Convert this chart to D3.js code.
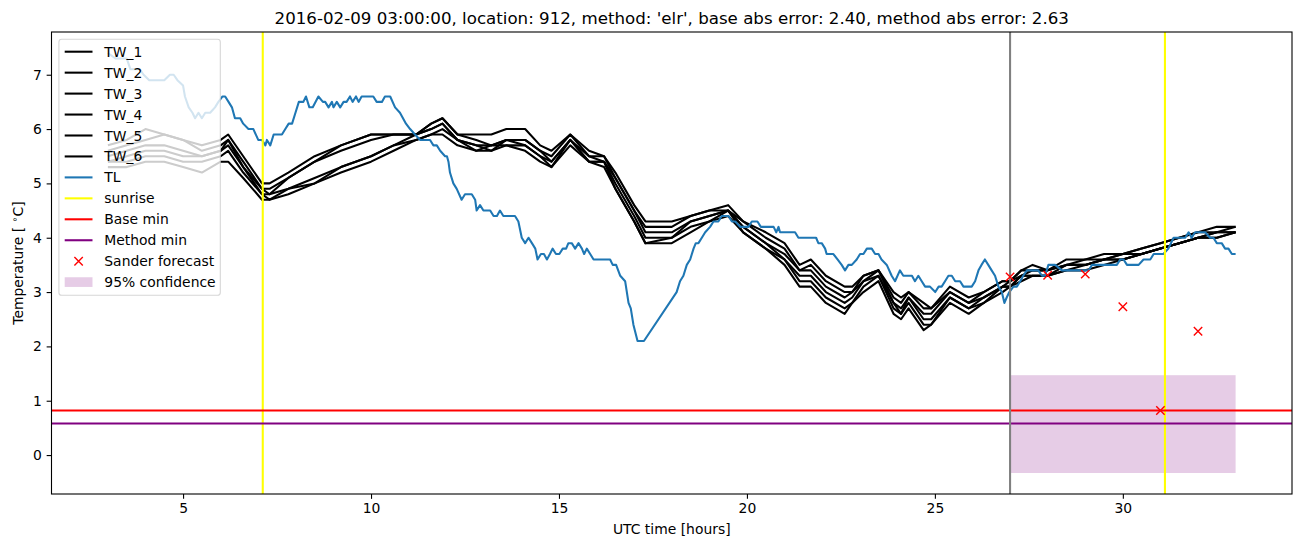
<!DOCTYPE html>
<html><head><meta charset="utf-8">
<script src="https://cdn.jsdelivr.net/npm/d3@7"></script>
<style>
body{margin:0;background:#fff}
svg{display:block}
text{font-family:"DejaVu Sans",sans-serif;fill:#000}
</style>
</head><body>
<svg id="chart" width="1302" height="547"></svg>
<script>
// ---------------- DATA ----------------
const titleText = "2016-02-09 03:00:00, location: 912, method: 'elr', base abs error: 2.40, method abs error: 2.63";
const twTimes = [3.0,3.5,4.0,4.5,5.0,5.5,6.0,6.2,6.6,7.1,7.3,7.8,8.5,9.2,10.0,10.6,11.2,11.6,11.9,12.3,12.8,13.2,13.6,14.1,14.5,14.8,15.3,15.8,16.2,16.5,17.0,17.3,18.0,18.5,19.0,19.5,19.9,20.5,21.0,21.4,21.7,22.1,22.6,22.8,23.1,23.5,23.9,24.1,24.3,24.7,24.9,25.4,25.9,26.3,26.8,27.0,27.3,27.6,28.0,28.5,29.0,29.5,30.0,30.5,31.0,31.5,32.0,32.5,33.0];
const TW_1 = [5.7,5.8,6.0,5.9,5.8,5.7,5.8,5.9,5.5,5.0,5.0,5.2,5.5,5.7,5.9,5.9,5.9,6.1,6.2,5.9,5.9,5.9,6.0,6.0,5.7,5.6,5.9,5.6,5.5,5.2,4.6,4.3,4.3,4.4,4.5,4.6,4.3,4.1,3.9,3.5,3.6,3.3,3.1,3.1,3.3,3.4,3.0,2.9,3.0,2.8,2.7,3.1,2.9,3.0,3.2,3.2,3.4,3.5,3.4,3.6,3.6,3.7,3.7,3.8,3.9,4.0,4.1,4.2,4.2];
const TW_2 = [5.6,5.7,5.8,5.9,5.8,5.6,5.7,5.8,5.4,4.9,4.9,5.1,5.4,5.7,5.9,5.9,5.9,6.1,6.2,5.9,5.8,5.7,5.8,5.8,5.6,5.5,5.9,5.5,5.5,5.1,4.5,4.2,4.2,4.4,4.5,4.5,4.3,4.0,3.8,3.4,3.5,3.2,3.0,3.0,3.3,3.4,2.9,2.8,3.0,2.7,2.7,3.0,2.8,3.0,3.2,3.2,3.4,3.4,3.4,3.5,3.6,3.6,3.7,3.8,3.9,4.0,4.1,4.1,4.2];
const TW_3 = [5.5,5.6,5.7,5.7,5.6,5.5,5.6,5.8,5.3,4.9,4.8,5.1,5.4,5.6,5.8,5.9,5.9,6.0,6.1,5.8,5.7,5.7,5.8,5.8,5.6,5.4,5.8,5.5,5.4,5.1,4.5,4.1,4.1,4.3,4.4,4.5,4.2,3.9,3.7,3.4,3.4,3.1,2.9,3.0,3.2,3.4,2.8,2.7,2.9,2.6,2.6,3.0,2.8,2.9,3.1,3.2,3.3,3.4,3.4,3.5,3.5,3.6,3.7,3.7,3.8,3.9,4.0,4.1,4.1];
const TW_4 = [5.4,5.5,5.6,5.6,5.5,5.5,5.6,5.7,5.3,4.8,4.8,4.9,5.1,5.3,5.5,5.7,5.9,6.0,6.1,5.8,5.7,5.6,5.8,5.7,5.5,5.4,5.8,5.4,5.4,5.0,4.4,4.0,4.0,4.3,4.4,4.5,4.2,3.9,3.6,3.3,3.3,3.0,2.8,2.9,3.2,3.3,2.8,2.6,2.9,2.5,2.5,2.9,2.7,2.9,3.1,3.1,3.3,3.3,3.3,3.5,3.5,3.6,3.6,3.7,3.8,3.9,4.0,4.1,4.1];
const TW_5 = [5.4,5.4,5.5,5.5,5.4,5.4,5.5,5.6,5.2,4.8,4.7,4.9,5.0,5.3,5.5,5.7,5.8,5.9,6.0,5.8,5.6,5.7,5.7,5.7,5.5,5.3,5.8,5.4,5.4,4.9,4.3,3.9,4.0,4.2,4.3,4.5,4.1,3.8,3.6,3.2,3.2,2.9,2.7,2.8,3.1,3.3,2.7,2.6,2.8,2.4,2.4,2.9,2.7,2.8,3.1,3.1,3.3,3.3,3.3,3.4,3.5,3.6,3.6,3.7,3.8,3.9,4.0,4.0,4.1];
const TW_6 = [5.3,5.3,5.4,5.4,5.3,5.2,5.4,5.4,5.1,4.7,4.7,4.8,5.0,5.2,5.4,5.6,5.8,5.9,5.9,5.7,5.6,5.6,5.7,5.6,5.4,5.3,5.7,5.4,5.3,4.9,4.3,3.9,3.9,4.1,4.3,4.4,4.1,3.8,3.5,3.1,3.1,2.8,2.6,2.8,3.0,3.2,2.6,2.5,2.7,2.3,2.4,2.8,2.6,2.8,3.0,3.1,3.2,3.3,3.3,3.4,3.4,3.5,3.6,3.7,3.8,3.9,4.0,4.0,4.1];
const twNames = ["TW_1","TW_2","TW_3","TW_4","TW_5","TW_6"];

const tlTimes = [3.0,3.2,3.5,3.6,3.85,3.95,4.1,4.5,4.65,4.75,4.85,5.0,5.05,5.15,5.25,5.32,5.41,5.5,5.59,5.72,5.85,5.94,6.05,6.12,6.21,6.3,6.38,6.52,6.6,6.74,6.87,7.0,7.1,7.19,7.23,7.32,7.41,7.63,7.72,7.81,7.9,7.99,8.08,8.2,8.27,8.36,8.45,8.6,8.72,8.78,8.87,8.96,9.0,9.09,9.18,9.27,9.35,9.44,9.51,9.6,9.67,9.75,9.98,10.06,10.15,10.29,10.37,10.51,10.64,10.77,10.93,11.04,11.17,11.31,11.57,11.66,11.75,11.84,11.97,12.02,12.06,12.1,12.19,12.28,12.41,12.5,12.68,12.77,12.81,12.9,12.99,13.17,13.26,13.35,13.43,13.52,13.83,13.92,14.01,14.1,14.19,14.28,14.37,14.43,14.52,14.6,14.68,14.76,14.83,14.92,15.01,15.1,15.19,15.25,15.34,15.43,15.52,15.61,15.67,15.74,15.83,15.92,16.36,16.43,16.52,16.63,16.76,16.85,16.91,16.98,17.09,17.26,18.13,18.22,18.31,18.4,18.49,18.58,18.64,18.71,18.8,18.89,19.02,19.11,19.24,19.33,19.51,19.6,19.69,19.82,20.04,20.13,20.28,20.37,20.71,20.78,20.84,20.88,21.28,21.37,21.84,21.9,21.99,22.08,22.12,22.3,22.41,22.52,22.61,22.7,22.79,22.92,23.01,23.1,23.19,23.32,23.41,23.5,23.58,23.72,23.85,23.94,24.07,24.16,24.39,24.47,24.56,24.65,24.74,24.87,25.01,25.1,25.18,25.27,25.36,25.45,25.54,25.67,25.76,25.98,26.07,26.16,26.24,26.33,26.42,26.51,26.6,26.69,26.78,26.85,26.91,26.98,27.09,27.18,27.27,27.35,27.45,27.75,27.85,27.93,28.02,28.2,28.38,29.09,29.18,29.84,29.93,30.02,30.11,30.42,30.55,30.73,30.82,31.08,31.21,31.35,31.66,31.75,31.83,31.92,32.19,32.32,32.41,32.5,32.63,32.72,32.81,32.9,33.0];
const tlValues = [7.4,7.3,7.3,7.1,7.1,7.0,6.9,6.9,7.0,7.0,6.9,6.8,6.6,6.4,6.3,6.2,6.3,6.2,6.3,6.3,6.4,6.5,6.6,6.6,6.5,6.4,6.2,6.2,6.1,6.0,6.0,5.8,5.8,5.7,5.8,5.7,5.9,5.9,6.0,6.1,6.1,6.3,6.5,6.5,6.6,6.4,6.4,6.6,6.5,6.5,6.4,6.5,6.4,6.5,6.4,6.5,6.5,6.6,6.5,6.6,6.5,6.6,6.6,6.6,6.5,6.5,6.6,6.6,6.4,6.3,6.1,6.0,5.9,5.8,5.8,5.7,5.7,5.6,5.5,5.5,5.4,5.2,5.0,4.9,4.7,4.8,4.8,4.7,4.5,4.6,4.5,4.5,4.4,4.4,4.5,4.4,4.4,4.3,4.0,3.9,4.0,3.9,3.8,3.6,3.7,3.7,3.6,3.7,3.8,3.7,3.7,3.8,3.8,3.9,3.9,3.8,3.9,3.8,3.7,3.8,3.7,3.6,3.6,3.5,3.5,3.3,3.2,2.8,2.7,2.4,2.1,2.1,3.0,3.2,3.3,3.5,3.6,3.8,3.9,3.9,4.0,4.1,4.2,4.3,4.3,4.4,4.4,4.3,4.3,4.2,4.2,4.3,4.3,4.2,4.2,4.1,4.2,4.1,4.1,4.0,4.0,3.9,3.9,3.8,3.7,3.7,3.6,3.5,3.4,3.5,3.5,3.6,3.7,3.7,3.8,3.8,3.7,3.7,3.6,3.5,3.3,3.2,3.4,3.3,3.3,3.2,3.3,3.2,3.1,3.1,3.0,3.1,3.1,3.2,3.3,3.3,3.2,3.2,3.1,3.1,3.2,3.4,3.5,3.6,3.5,3.4,3.3,3.1,3.0,2.8,2.9,3.0,3.1,3.1,3.2,3.3,3.4,3.4,3.3,3.3,3.5,3.5,3.4,3.4,3.5,3.5,3.6,3.6,3.5,3.5,3.6,3.6,3.7,3.7,3.8,4.0,4.0,4.1,4.0,4.1,4.1,4.0,4.0,3.9,3.9,3.8,3.8,3.7,3.7];

const sunriseTimes = [7.12, 31.12];
const baseMin = 0.82;
const methodMin = 0.58;
const forecastStart = 27.0;
const sanderTimes = [27, 28, 29, 30, 31, 32];
const sanderValues = [3.28, 3.31, 3.33, 2.73, 0.82, 2.28];
const confTimes = [27.0, 33.0];
const confLow = -0.33;
const confHigh = 1.47;
const xTickValues = [5, 10, 15, 20, 25, 30];
const yTickValues = [0, 1, 2, 3, 4, 5, 6, 7];
const legendLabels = ["TW_1","TW_2","TW_3","TW_4","TW_5","TW_6","TL","sunrise","Base min","Method min","Sander forecast","95% confidence"];

// ---------------- LAYOUT ----------------
const plot = {left: 51.5, right: 1292, top: 32, bottom: 494};
const svg = d3.select("#chart");

const allX = [...twTimes, ...tlTimes, ...sanderTimes, ...confTimes];
const allY = [...TW_1, ...TW_2, ...TW_3, ...TW_4, ...TW_5, ...TW_6, ...tlValues, ...sanderValues, confLow, confHigh, baseMin, methodMin];
const [x0, x1] = d3.extent(allX), [y0, y1] = d3.extent(allY);
const xm = (x1 - x0) * 0.05, ym = (y1 - y0) * 0.05;
const x = d3.scaleLinear().domain([x0 - xm, x1 + xm]).range([plot.left, plot.right]);
const y = d3.scaleLinear().domain([y0 - ym, y1 + ym]).range([plot.bottom, plot.top]);

svg.append("defs").append("clipPath").attr("id", "clip")
  .append("rect").attr("x", plot.left).attr("y", plot.top)
  .attr("width", plot.right - plot.left).attr("height", plot.bottom - plot.top);

const g = svg.append("g").attr("clip-path", "url(#clip)");
const LW = 2.08;

// confidence band
g.append("rect")
  .attr("x", x(confTimes[0])).attr("width", x(confTimes[1]) - x(confTimes[0]))
  .attr("y", y(confHigh)).attr("height", y(confLow) - y(confHigh))
  .attr("fill", "purple").attr("fill-opacity", 0.2);

const line = d3.line().x(d => x(d[0])).y(d => y(d[1]));
const twSeries = [TW_1, TW_2, TW_3, TW_4, TW_5, TW_6];
twSeries.forEach(vals => {
  g.append("path").datum(twTimes.map((t, i) => [t, vals[i]]))
    .attr("d", line).attr("fill", "none").attr("stroke", "#000")
    .attr("stroke-width", LW).attr("stroke-linejoin", "round");
});
g.append("path").datum(tlTimes.map((t, i) => [t, tlValues[i]]))
  .attr("d", line).attr("fill", "none").attr("stroke", "#1f77b4")
  .attr("stroke-width", LW).attr("stroke-linejoin", "round");

sunriseTimes.forEach(t => {
  g.append("line").attr("x1", x(t)).attr("x2", x(t)).attr("y1", plot.top).attr("y2", plot.bottom)
    .attr("stroke", "yellow").attr("stroke-width", LW);
});
g.append("line").attr("x1", plot.left).attr("x2", plot.right).attr("y1", y(baseMin)).attr("y2", y(baseMin))
  .attr("stroke", "red").attr("stroke-width", LW);
g.append("line").attr("x1", plot.left).attr("x2", plot.right).attr("y1", y(methodMin)).attr("y2", y(methodMin))
  .attr("stroke", "purple").attr("stroke-width", LW);
g.append("line").attr("x1", x(forecastStart)).attr("x2", x(forecastStart)).attr("y1", plot.top).attr("y2", plot.bottom)
  .attr("stroke", "gray").attr("stroke-width", LW);

const xMark = (sel, cx, cy, s) => {
  sel.append("path").attr("d", `M${cx - s},${cy - s}L${cx + s},${cy + s}M${cx - s},${cy + s}L${cx + s},${cy - s}`)
    .attr("stroke", "red").attr("stroke-width", 1.4).attr("fill", "none");
};
sanderTimes.forEach((t, i) => xMark(g, x(t), y(sanderValues[i]), 4.2));

// ---------------- AXES ----------------
const xAxis = d3.axisBottom(x).tickValues(xTickValues).tickSize(4.86).tickPadding(4.2).tickFormat(d3.format("d"));
const yAxis = d3.axisLeft(y).tickValues(yTickValues).tickSize(4.86).tickPadding(4.86).tickFormat(d3.format("d"));
const gx = svg.append("g").attr("transform", `translate(0,${plot.bottom})`).call(xAxis);
const gy = svg.append("g").attr("transform", `translate(${plot.left},0)`).call(yAxis);
[gx, gy].forEach(a => {
  a.select(".domain").remove();
  a.selectAll(".tick line").attr("stroke", "#000").attr("stroke-width", 1.1);
  a.selectAll(".tick text").attr("font-size", "13.9px").attr("font-family", '"DejaVu Sans", sans-serif').attr("fill", "#000");
});
svg.append("rect").attr("x", plot.left).attr("y", plot.top)
  .attr("width", plot.right - plot.left).attr("height", plot.bottom - plot.top)
  .attr("fill", "none").attr("stroke", "#000").attr("stroke-width", 1.1);

svg.append("text").attr("x", (plot.left + plot.right) / 2).attr("y", 23.5)
  .attr("text-anchor", "middle").attr("font-size", "16.67px").text(titleText);
svg.append("text").attr("x", (plot.left + plot.right) / 2).attr("y", 534)
  .attr("text-anchor", "middle").attr("font-size", "13.9px").text("UTC time [hours]");
const yl = svg.append("text").attr("transform", `translate(23,${(plot.top + plot.bottom) / 2}) rotate(-90)`)
  .attr("text-anchor", "middle").attr("font-size", "13.9px");
yl.append("tspan").text("Temperature [ ");
yl.append("tspan").attr("dy", -5).attr("font-size", "9.7px").text("∘");
yl.append("tspan").attr("dy", 5).text("C]");

// ---------------- LEGEND ----------------
const lg = svg.append("g");
lg.append("rect").attr("x", 58.9).attr("y", 39.3).attr("width", 161.4).attr("height", 256)
  .attr("rx", 2.8).attr("fill", "#fff").attr("fill-opacity", 0.8)
  .attr("stroke", "#ccc").attr("stroke-opacity", 0.8).attr("stroke-width", 1.1);
const legColors = ["#000","#000","#000","#000","#000","#000","#1f77b4","yellow","red","purple"];
legendLabels.forEach((lab, i) => {
  const cy = 51.7 + i * 20.95;
  if (i < 10) {
    lg.append("line").attr("x1", 64.7).attr("x2", 92.5).attr("y1", cy).attr("y2", cy)
      .attr("stroke", legColors[i]).attr("stroke-width", LW);
  } else if (i === 10) {
    xMark(lg, 78.6, cy, 4.2);
  } else {
    lg.append("rect").attr("x", 64.7).attr("y", cy - 4.9).attr("width", 27.8).attr("height", 9.7)
      .attr("fill", "purple").attr("fill-opacity", 0.2);
  }
  lg.append("text").attr("x", 104.3).attr("y", cy + 5).attr("font-size", "13.9px").text(lab);
});
</script>
</body></html>
